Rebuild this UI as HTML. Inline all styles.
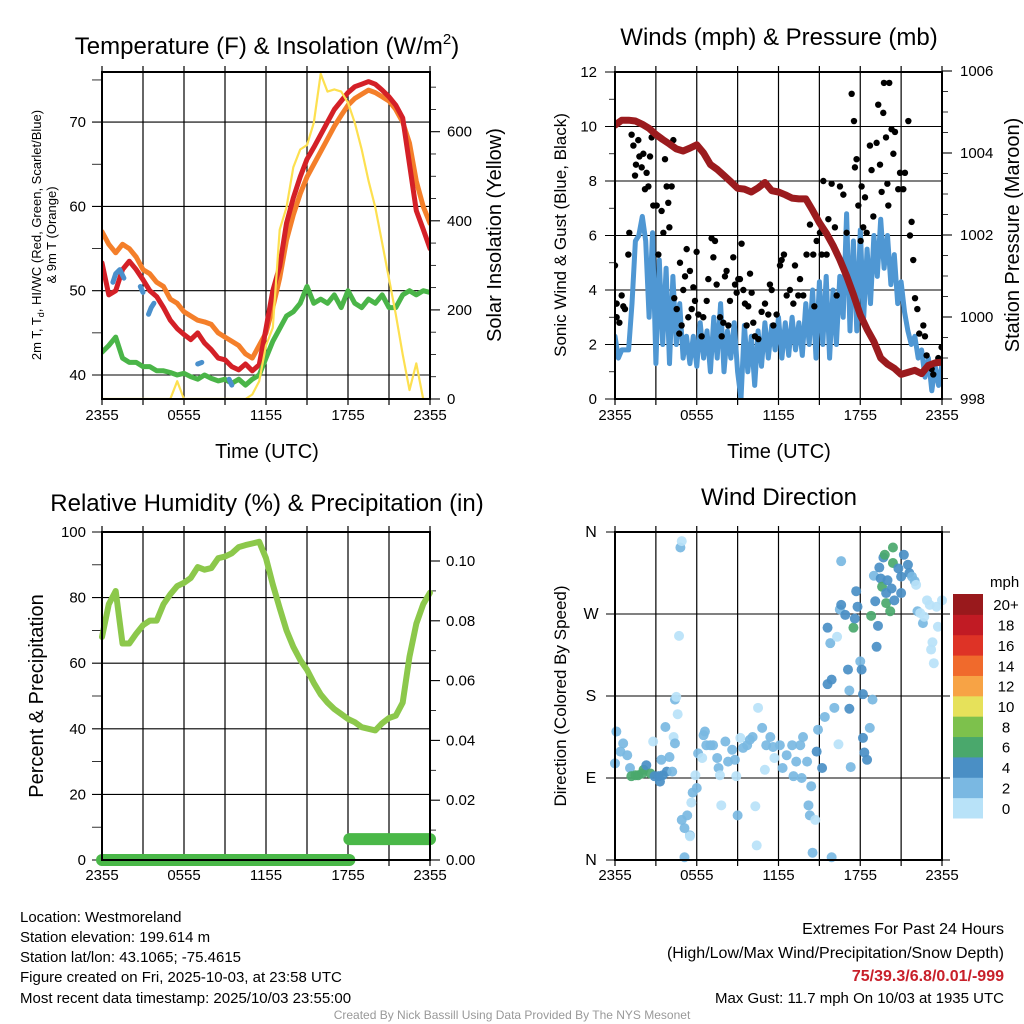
<!DOCTYPE html>
<html><head><meta charset="utf-8">
<style>
html,body{margin:0;padding:0;background:#fff;}
svg{display:block;font-family:"Liberation Sans",sans-serif;}
</style></head>
<body>
<svg id="s" width="1024" height="1024" viewBox="0 0 1024 1024" xmlns="http://www.w3.org/2000/svg">
<rect width="1024" height="1024" fill="#fff"/>
<g id="g1"></g>
<g id="g2"></g>
<g id="g3"></g>
<g id="g4"></g>
<g id="gt">
<text x="267" y="54" font-size="24" text-anchor="middle">Temperature (F) &amp; Insolation (W/m<tspan font-size="15" dy="-10">2</tspan><tspan dy="10">)</tspan></text>
<text x="779" y="45" font-size="24" text-anchor="middle">Winds (mph) &amp; Pressure (mb)</text>
<text x="267" y="511" font-size="24" text-anchor="middle">Relative Humidity (%) &amp; Precipitation (in)</text>
<text x="779" y="505" font-size="24" text-anchor="middle">Wind Direction</text>
<text x="267" y="458" font-size="20" text-anchor="middle">Time (UTC)</text>
<text x="779" y="458" font-size="20" text-anchor="middle">Time (UTC)</text>
<text transform="translate(41,235) rotate(-90)" font-size="13" text-anchor="middle">2m T, T<tspan font-size="9" dy="3">d</tspan><tspan dy="-3">, HI/WC (Red, Green, Scarlet/Blue)</tspan></text>
<text transform="translate(56,235) rotate(-90)" font-size="13" text-anchor="middle">&amp; 9m T (Orange)</text>
<text transform="translate(501,235) rotate(-90)" font-size="20" text-anchor="middle">Solar Insolation (Yellow)</text>
<text transform="translate(566,235) rotate(-90)" font-size="17" text-anchor="middle">Sonic Wind &amp; Gust (Blue, Black)</text>
<text transform="translate(1019,235) rotate(-90)" font-size="20" text-anchor="middle">Station Pressure (Maroon)</text>
<text transform="translate(43,696) rotate(-90)" font-size="20" text-anchor="middle">Percent &amp; Precipitation</text>
<text transform="translate(566,696) rotate(-90)" font-size="17" text-anchor="middle">Direction (Colored By Speed)</text>
<text x="990" y="587" font-size="15">mph</text>
<g font-size="15">
<text x="20" y="922">Location: Westmoreland</text>
<text x="20" y="942">Station elevation: 199.614 m</text>
<text x="20" y="962">Station lat/lon: 43.1065; -75.4615</text>
<text x="20" y="982">Figure created on Fri, 2025-10-03, at 23:58 UTC</text>
<text x="20" y="1003">Most recent data timestamp: 2025/10/03 23:55:00</text>
</g>
<g font-size="16" text-anchor="end">
<text x="1004" y="934">Extremes For Past 24 Hours</text>
<text x="1004" y="958">(High/Low/Max Wind/Precipitation/Snow Depth)</text>
<text x="1004" y="981" font-weight="bold" fill="#c8202a">75/39.3/6.8/0.01/-999</text>
<text x="1004" y="1003" font-size="15">Max Gust: 11.7 mph On 10/03 at 1935 UTC</text>
</g>
<text x="512" y="1019" font-size="12" fill="#999" text-anchor="middle">Created By Nick Bassill Using Data Provided By The NYS Mesonet</text>
</g>
</svg>
<script>
const halfHours=[0,0.5,1,1.5,2,2.5,3,3.5,4,4.5,5,5.5,6,6.5,7,7.5,8,8.5,9,9.5,10,10.5,11,11.5,12,12.5,13,13.5,14,14.5,15,15.5,16,16.5,17,17.5,18,18.5,19,19.5,20,20.5,21,21.5,22,22.5,23,23.5,24];
const tempRed=[53.3,49.5,50,52.5,53.5,52.5,51.3,50,49.3,48,46.5,45.5,44.8,44.2,45,43.8,43,42,41.8,41,40.6,41.3,40.5,41.2,45.5,50,52.9,58,61,63.5,65.6,67,68.5,70,71.5,72.5,73.5,74.2,74.5,74.8,74.5,73.8,73,72,70.5,65,59.5,57.3,55];
const temp9m=[57,55.5,54.5,55.5,55,54,52.5,52,51,50.5,49,48.5,47.5,47,46.5,46.3,46,45,44.5,44,43.5,42.5,42,43.5,45,48,51.5,56,59,61.5,63.5,65,66.5,68,69.5,70.8,72,72.8,73.3,73.8,73.5,73,72.5,71.5,70,67.5,63,60,58];
const dewpoint=[42.7,43.5,44.5,42,41.5,41.5,41,41,40.5,40.5,40.3,40,40.2,39.8,39.5,40,39.6,39.3,39.5,39,39.5,38.8,39.5,40,42,44,45.5,47,47.5,48.5,50.5,48.5,49,48.5,49.5,48,50,48.5,48,49,48.5,49.5,48,48,49.5,50,49.5,50,49.8];
const solar=[0,0,0,0,0,0,0,0,0,0,0,40,0,0,0,0,0,0,0,0,0,0,10,40,120,160,380,430,520,560,570,620,730,690,695,690,665,620,560,490,430,350,270,190,100,20,80,0,0];
const hiwcHours=[0.8,1.0,1.3,1.6,null,2.8,3.0,null,3.4,3.6,3.8,null,7.0,7.3,null,9.3,9.5];
const hiwcValues=[51,52,52.5,51.5,null,50.5,49.8,null,47.2,48,48.5,null,41.3,41.5,null,39.5,38.8];
const pressure=[1004.68,1004.8,1004.8,1004.78,1004.7,1004.6,1004.45,1004.33,1004.22,1004.1,1004.05,1004.12,1004.2,1004.0,1003.72,1003.6,1003.45,1003.3,1003.14,1003.12,1003.05,1003.15,1003.28,1003.08,1003.05,1002.98,1002.9,1002.88,1002.88,1002.6,1002.3,1002.05,1001.75,1001.4,1001.0,1000.55,1000.05,999.7,999.4,999.0,998.85,998.75,998.6,998.65,998.7,998.62,998.82,998.88,998.9];
const windHours=[0,0.25,0.5,0.75,1,1.25,1.5,1.75,2,2.25,2.5,2.75,3,3.25,3.5,3.75,4,4.25,4.5,4.75,5,5.25,5.5,5.75,6,6.25,6.5,6.75,7,7.25,7.5,7.75,8,8.25,8.5,8.75,9,9.25,9.5,9.75,10,10.25,10.5,10.75,11,11.25,11.5,11.75,12,12.25,12.5,12.75,13,13.25,13.5,13.75,14,14.25,14.5,14.75,15,15.25,15.5,15.75,16,16.25,16.5,16.75,17,17.25,17.5,17.75,18,18.25,18.5,18.75,19,19.25,19.5,19.75,20,20.25,20.5,20.75,21,21.25,21.5,21.75,22,22.25,22.5,22.75,23,23.25,23.5,23.75,24];
const windSpeed=[2.3,1.5,1.8,1.8,1.8,3.5,5.8,6.0,6.7,5.8,3.0,6.1,1.3,5.1,2.0,4.8,1.3,4.5,2.0,3.5,1.5,2.3,1.3,2.3,1.2,2.8,1.5,2.5,1.0,3.0,1.5,3.5,1.0,2.5,1.5,2.8,1.0,0.0,2.7,1.0,2.3,0.5,2.5,1.2,2.8,1.5,2.7,1.8,3.0,1.5,2.8,1.6,3.0,1.8,2.8,1.6,3.5,2.0,4.0,1.5,4.3,2.0,4.5,1.5,4.0,2.0,4.5,3.0,6.8,2.5,5.8,2.5,6.2,3.0,5.5,3.5,6.0,4.5,6.6,4.8,6.0,4.2,5.3,3.5,4.3,3.2,2.5,2.0,2.3,1.5,1.8,0.8,1.5,0.3,1.2,0.5,1.3];
const gustHours=[0,0.12,0.12,0.32,0.49,0.61,0.73,0.98,1.05,1.22,1.35,1.47,1.54,1.71,1.79,1.96,2.08,2.2,2.32,2.45,2.57,2.69,2.81,3.06,3.18,3.3,3.42,3.55,3.67,3.79,3.91,3.99,4.16,4.28,4.35,4.53,4.72,4.77,4.89,5.01,5.14,5.26,5.38,5.5,5.63,5.75,5.87,5.99,6.12,6.36,6.48,6.73,6.85,7.09,7.22,7.34,7.46,7.71,7.83,7.95,8.07,8.19,8.32,8.44,8.68,8.81,8.93,9.05,9.17,9.29,9.42,9.54,9.66,9.78,9.91,10.03,10.15,10.27,10.52,10.76,11.01,11.25,11.37,11.5,11.62,11.86,12.11,12.23,12.4,12.6,12.84,13.09,13.21,13.45,13.58,13.82,14.06,14.31,14.55,14.63,14.8,15.04,15.17,15.29,15.53,15.66,15.9,16.14,16.27,16.51,16.76,17.0,17.37,17.54,17.61,17.73,17.86,18.03,18.1,18.22,18.35,18.47,18.71,18.83,18.96,19.2,19.32,19.45,19.57,19.69,19.74,19.89,19.99,20.06,20.13,20.3,20.43,20.55,20.79,20.92,21.16,21.28,21.53,21.65,21.77,21.89,22.02,22.19,22.33,22.63,22.75,22.87,23.24,23.36,23.73,23.97];
const gustSpeed=[4.9,3.5,3.0,2.8,3.8,3.4,3.3,5.3,6.1,9.7,9.3,8.2,8.6,9.5,8.9,8.5,9.0,7.7,8.3,7.8,8.9,9.6,7.1,7.1,5.3,9.6,6.9,6.1,8.8,7.8,7.2,6.3,7.8,9.5,3.7,3.3,2.4,5.0,2.7,4.0,4.5,5.5,3.0,4.7,3.3,4.1,3.6,5.4,3.1,2.3,3.0,3.6,4.4,5.9,5.2,5.8,4.2,3.0,2.3,2.8,4.5,4.7,2.7,3.6,5.2,4.2,3.9,4.4,4.4,5.7,4.0,3.5,2.7,3.4,4.6,3.9,2.8,2.3,2.2,3.2,3.5,3.1,4.2,4.0,2.7,3.1,4.9,5.1,5.3,3.8,4.0,3.5,4.9,3.8,4.4,3.8,5.3,6.4,5.3,3.4,5.8,6.1,5.3,8.0,5.3,6.6,7.9,6.3,3.8,7.8,7.5,6.1,11.2,10.2,8.5,8.8,7.1,5.8,7.8,6.3,7.4,6.1,9.3,8.4,6.7,9.4,10.8,8.6,7.6,10.5,11.6,9.6,7.9,7.1,11.6,9.9,9.0,9.8,7.7,8.3,7.7,8.3,10.2,6.0,6.5,5.1,3.7,3.3,2.4,2.7,2.3,1.6,1.1,0.9,1.5,1.9];
const rhValues=[68,78,82,66,66,69,71.6,73,73,78,81,83.5,84.5,86,89.3,88.5,89,92,92.5,93.5,95.4,96,96.5,97,92,84,76.8,70,65,61,58,54,50.5,48,46,44.5,43,42,40.5,40,39.5,41.7,43.3,44,48,62,72,78,81.5];
const precipStartHours=[0,18.1];
const precipEndHours=[18.1,24];
const precipValues=[0,0.007];
const dirHours=[0.0,0.1,0.4,0.6,0.9,1.1,1.2,1.5,1.7,2.0,2.1,2.3,2.6,2.8,2.9,3.2,3.3,3.4,3.5,3.7,3.8,4.0,4.2,4.3,4.4,4.4,4.5,4.6,4.7,4.8,4.9,4.9,5.1,5.1,5.3,5.5,5.5,5.6,5.7,5.9,6.0,6.1,6.4,6.5,6.6,6.7,7.0,7.2,7.5,7.6,7.7,7.8,8.1,8.3,8.6,8.8,8.9,9.0,9.2,9.4,9.7,9.9,10.1,10.3,10.4,10.5,10.8,11.0,11.1,11.4,11.6,11.7,12.1,12.3,12.6,13.0,13.1,13.3,13.6,13.7,13.8,14.1,14.2,14.3,14.4,14.5,14.7,14.8,14.9,15.2,15.4,15.6,15.6,15.8,15.9,15.9,16.1,16.3,16.4,16.5,16.6,16.6,16.9,17.1,17.2,17.2,17.3,17.5,17.6,17.7,17.8,18.0,18.1,18.2,18.2,18.3,18.5,18.7,18.8,18.9,19.0,19.1,19.2,19.3,19.4,19.5,19.6,19.7,19.8,19.9,19.9,20.0,20.2,20.3,20.4,20.4,20.5,20.8,21.0,21.0,21.2,21.5,21.6,21.8,22.0,22.1,22.2,22.4,22.6,22.7,22.9,23.1,23.2,23.3,23.4,23.6,23.7,24.0];
const dirDegrees=[106,141,119,128,115,101,92,93,93,95,99,104,95,130,92,92,86,110,93,146,97,113,97,135,128,176,179,160,246,343,350,44,35,3,49,27,26,63,74,93,79,117,112,137,141,126,126,126,112,101,93,60,130,108,121,110,92,49,134,123,126,132,135,59,16,167,145,99,126,135,124,112,126,101,115,126,92,108,126,90,135,108,60,49,81,8,44,119,143,101,157,193,255,238,3,198,167,245,127,275,280,328,269,209,186,166,102,255,265,295,278,218,209,134,182,118,110,145,268,176,312,284,234,257,321,309,300,332,335,282,293,307,273,298,326,343,285,320,311,293,335,324,315,311,306,302,273,271,260,267,285,280,231,239,216,278,256,285];
const dirSpeeds=[3,3,3,3,3,3,7,7,7,7,7,5,7,1,5,5,5,3,5,3,5,3,3,1,3,3,1,1,1,3,1,3,3,3,3,3,1,1,3,1,3,3,1,3,3,3,3,3,3,3,1,1,3,3,3,3,1,3,1,3,3,3,3,1,1,1,3,1,3,3,3,1,3,3,3,3,3,3,3,3,3,3,3,3,3,3,1,5,3,5,3,5,5,3,3,5,3,1,1,3,5,3,5,5,3,5,3,7,5,5,5,3,5,5,5,5,5,3,7,3,3,5,5,5,5,5,7,5,7,7,5,5,7,5,7,7,5,5,5,5,5,5,5,3,3,1,3,1,3,1,1,1,1,1,1,1,1,1];
const tempTicks=[40,50,60,70];
const solarTicks=[0,200,400,600];
const windTicks=[0,2,4,6,8,10,12];
const pressureTicks=[998,1000,1002,1004,1006];
const rhTicks=[0,20,40,60,80,100];
const precipTicks=[0,0.02,0.04,0.06,0.08,0.1];
const precipTickLabels=["0.00","0.02","0.04","0.06","0.08","0.10"];
const dirTicks=[0,90,180,270,360];
const dirTickLabels=["N","E","S","W","N"];
const timeTicks=[0,6,12,18,24];
const timeTickLabels=["2355","0555","1155","1755","2355"];
const cbLevels=["0","2","4","6","8","10","12","14","16","18","20+"];
const cbColors=["#b8e2f8","#7ab8e2","#4a8fc5","#4aa86c","#7dc14c","#e6e15a","#f7a345","#f06a2c","#de3326","#c11b24","#99191c"];

const NS="http://www.w3.org/2000/svg";
function mk(parent,tag,attrs){const e=document.createElementNS(NS,tag);for(const k in attrs)e.setAttribute(k,attrs[k]);parent.appendChild(e);return e;}
const X1=h=>102+h*328/24;
const X2=h=>615+h*327/24;
const yT=t=>375-(t-40)*8.43;
const yS=s=>399-s*0.4455;
const yW=v=>399-v*27.25;
const yP=p=>399-(p-998)*41;
const yR=r=>860-r*3.28;
const yPr=v=>860-v*2990;
const yD=d=>860-d*328/360;

function pathFrom(xs,ys,fx,fy){let d="",pen=false;for(let i=0;i<xs.length;i++){if(xs[i]===null||ys[i]===null){pen=false;continue;}d+=(pen?"L":"M")+fx(xs[i]).toFixed(1)+","+fy(ys[i]).toFixed(1);pen=true;}return d;}
function series(g,name,xs,ys,fx,fy,color,w){
  const p=mk(g,"path",{d:pathFrom(xs,ys,fx,fy),fill:"none",stroke:color,"stroke-width":w,"stroke-linejoin":"round","stroke-linecap":"round"});
  
  
  return p;
}
function frame(g,x0,x1,y0,y1,id){
  const cp=mk(g,"clipPath",{id:id});mk(cp,"rect",{x:x0,y:y0,width:x1-x0,height:y1-y0});
  for(let h=0;h<=24;h+=3){const x=x0+h*(x1-x0)/24;const l=mk(g,"line",{x1:x,x2:x,y1:y0-6,y2:y1+6,stroke:"#000","stroke-width":1.2});
    
    }
}
function box(g,x0,x1,y0,y1){const r=mk(g,"rect",{x:x0,y:y0,width:x1-x0,height:y1-y0,fill:"none",stroke:"#000","stroke-width":2});
  
  }
function hgrid(g,x0,x1,vals,fy,tickLeft){vals.forEach(v=>{const y=fy(v);const l=mk(g,"line",{x1:x0-(tickLeft?10:0),x2:x1,y1:y,y2:y,stroke:"#000","stroke-width":1.1});
  
  });}
function labels(g,vals,texts,x,fy,anchor,name,size){vals.forEach((v,i)=>{const t=mk(g,"text",{x:x,y:fy(v)+5,"font-size":size||15,"text-anchor":anchor});t.textContent=texts?texts[i]:String(v);
  
  });}
function rticks(g,x,vals,fy,len){vals.forEach(v=>{const y=fy(v);const l=mk(g,"line",{x1:x,x2:x+len,y1:y,y2:y,stroke:"#000","stroke-width":1.1});
  
  });}
function minor(g,x,vals,fy,len){vals.forEach(v=>{const y=fy(v);mk(g,"line",{x1:x,x2:x+len,y1:y,y2:y,stroke:"#000","stroke-width":0.8});});}
function xlabels(g,fx,y){timeTicks.forEach((h,i)=>{const t=mk(g,"text",{x:fx(h),y:y,"font-size":15,"text-anchor":"middle"});t.textContent=timeTickLabels[i];
  
  });}

// Panel 1
const g1=document.getElementById("g1");
frame(g1,102,430,72,399,"c1");
hgrid(g1,102,430,tempTicks,yT,true);
minor(g1,92,[45,55,65,75],yT,10);
rticks(g1,430,solarTicks,yS,10);
minor(g1,430,[100,300,500,700],yS,6);
minor(g1,430,[50,150,250,350,450,550,650],yS,6);
labels(g1,tempTicks,null,86,yT,"end","y-tick-label-temp");
labels(g1,solarTicks,null,447,yS,"start","y-tick-label-solar");
xlabels(g1,X1,420);
const c1=mk(g1,"g",{"clip-path":"url(#c1)"});
series(c1,"temp-9m-line",halfHours,temp9m,X1,yT,"#f47f2a",5);
series(c1,"temp-2m-line",halfHours,tempRed,X1,yT,"#d42027",5);
series(c1,"dewpoint-line",halfHours,dewpoint,X1,yT,"#4ab548",5);
series(c1,"heat-index-line",hiwcHours,hiwcValues,X1,yT,"#4a90cc",5);
series(c1,"solar-line",halfHours,solar,X1,yS,"#fde050",2.2);
box(g1,102,430,72,399);

// Panel 2
const g2=document.getElementById("g2");
frame(g2,615,942,72,399,"c2");
hgrid(g2,615,942,windTicks,yW,true);
minor(g2,609,[1,3,5,7,9,11],yW,6);
rticks(g2,942,pressureTicks,yP,10);
minor(g2,942,[998.5,999,999.5,1000.5,1001,1001.5,1002.5,1003,1003.5,1004.5,1005,1005.5],yP,6);
labels(g2,windTicks,null,597,yW,"end","y-tick-label-wind");
labels(g2,pressureTicks,null,960,yP,"start","y-tick-label-pressure");
xlabels(g2,X2,420);
const c2=mk(g2,"g",{"clip-path":"url(#c2)"});
series(c2,"wind-speed-line",windHours,windSpeed,X2,yW,"#4f97d3",5);
gustHours.forEach((h,i)=>{const c=mk(c2,"circle",{cx:X2(h),cy:yW(gustSpeed[i]),r:3.2,fill:"#000"});
  
  });
series(c2,"pressure-line",halfHours,pressure,X2,yP,"#9b1b1e",7);
box(g2,615,942,72,399);

// Panel 3
const g3=document.getElementById("g3");
frame(g3,102,430,532,860,"c3");
hgrid(g3,102,430,rhTicks,yR,true);
minor(g3,92,[10,30,50,70,90],yR,10);
rticks(g3,430,precipTicks,yPr,10);
minor(g3,430,[0.01,0.03,0.05,0.07,0.09],yPr,6);
labels(g3,rhTicks,null,86,yR,"end","y-tick-label-rh");
labels(g3,precipTicks,precipTickLabels,446,yPr,"start","y-tick-label-precip");
xlabels(g3,X1,880);
series(g3,"rh-line",halfHours,rhValues,X1,yR,"#8cc84b",6);
precipValues.forEach((v,i)=>{const l=mk(g3,"line",{x1:X1(precipStartHours[i]),x2:X1(precipEndHours[i]),y1:yPr(v),y2:yPr(v),stroke:"#4ab848","stroke-width":12,"stroke-linecap":"round"});
  
  });
box(g3,102,430,532,860);

// Panel 4
const g4=document.getElementById("g4");
frame(g4,615,942,532,860,"c4");
hgrid(g4,606,950,dirTicks,yD,false);
labels(g4,dirTicks,dirTickLabels,591,yD,"middle","y-tick-label-direction",16);
xlabels(g4,X2,880);
function spdColor(s){let i=Math.floor(s/2);if(i>10)i=10;if(i<0)i=0;return cbColors[i];}
dirHours.forEach((h,i)=>{const c=mk(g4,"circle",{cx:X2(h),cy:yD(dirDegrees[i]),r:5,fill:spdColor(dirSpeeds[i]),"fill-opacity":0.92});
  
  });
box(g4,615,942,532,860);
// colorbar
const cbH=224/cbLevels.length;
cbLevels.forEach((lab,i)=>{const y=818-(i+1)*cbH;
  const r=mk(g4,"rect",{x:953,y:y,width:30,height:cbH+0.5,fill:cbColors[i]});
  
  
  const t=mk(g4,"text",{x:1006,y:y+cbH/2+6,"font-size":15,"text-anchor":"middle"});t.textContent=lab;
  
  });
</script>
</body></html>
